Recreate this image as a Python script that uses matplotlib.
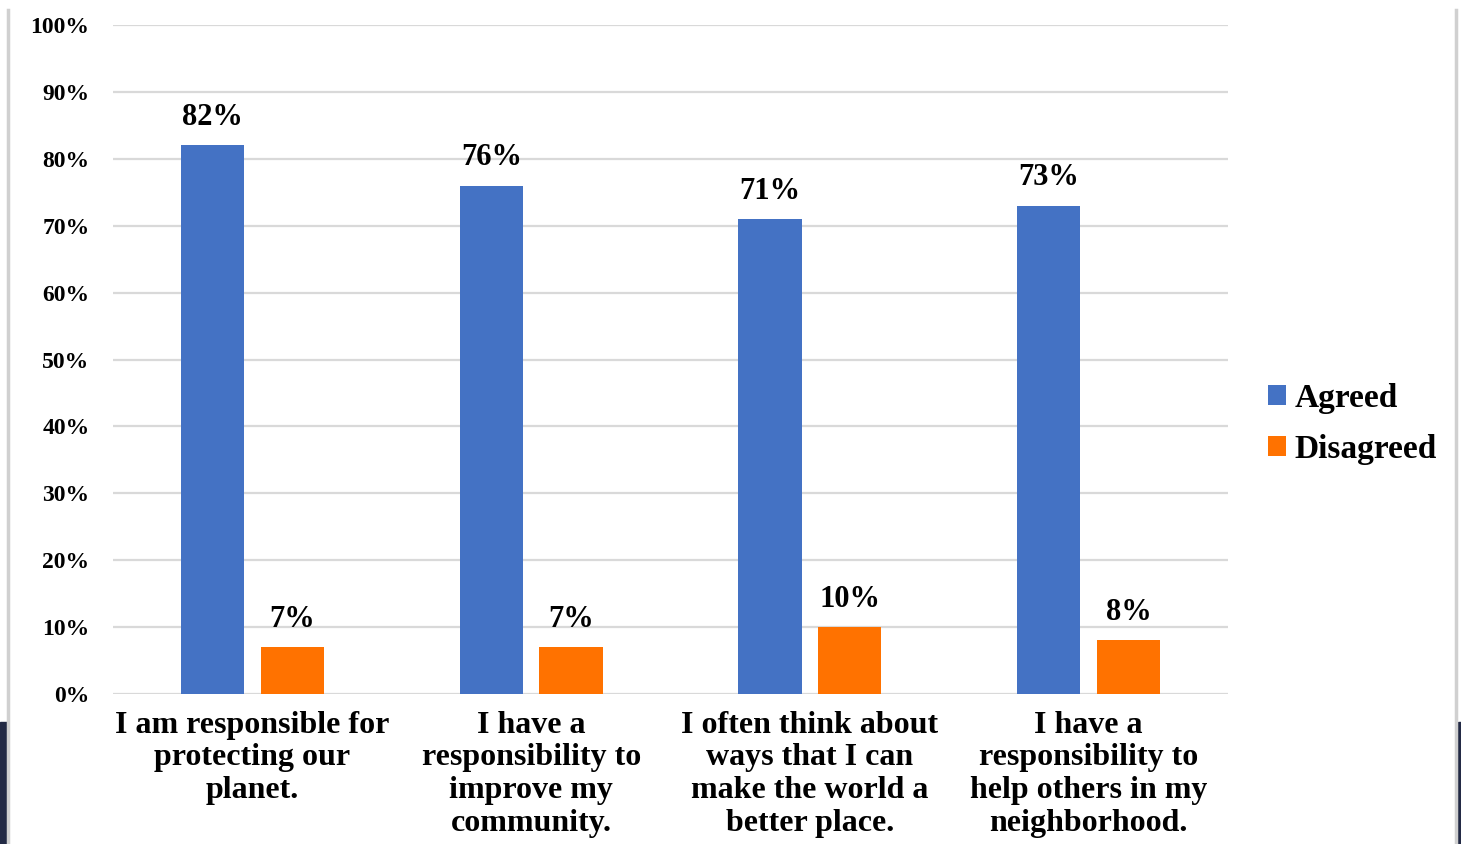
import numpy as np
import matplotlib
matplotlib.use("Agg")
import matplotlib.pyplot as plt
from matplotlib.patches import Rectangle
from matplotlib.lines import Line2D

# survey statements and shares (percent)
categories = ["I am responsible for\nprotecting our\nplanet.",
              "I have a\nresponsibility to\nimprove my\ncommunity.",
              "I often think about\nways that I can\nmake the world a\nbetter place.",
              "I have a\nresponsibility to\nhelp others in my\nneighborhood."]
agreed = [82, 76, 71, 73]
disagreed = [7, 7, 10, 8]
yticks = [0, 10, 20, 30, 40, 50, 60, 70, 80, 90, 100]

blue = "#4472C4"
orange = "#FF7200"

plt.rcParams.update({
    "font.family": "serif",
    "font.serif": ["Liberation Serif", "DejaVu Serif"],
    "font.weight": "bold"})

fig = plt.figure(figsize=(14.61, 8.44), dpi=100)
ax = fig.add_axes([113/1461, 1-694/844, (1228-113)/1461, (694-25)/844])

x = np.arange(len(categories))
w = 0.227
b1 = ax.bar(x - 0.143, agreed, w, color=blue, label="Agreed", zorder=3)
b2 = ax.bar(x + 0.143, disagreed, w, color=orange, label="Disagreed", zorder=3)

for bars, vals in [(b1, agreed), (b2, disagreed)]:
    for r, v in zip(bars, vals):
        ax.text(r.get_x() + r.get_width()/2, v + 2.0, f"{v}%", ha="center", va="bottom",
                fontsize=22, fontweight="bold")

ax.set_xlim(-0.5, 3.5)
ax.set_ylim(0, 100)
ax.set_yticks(yticks)
ax.set_yticklabels([f"{t}%" for t in yticks], fontsize=17, fontweight="bold")
ax.set_xticks(x)
ax.set_xticklabels(categories, fontsize=23, fontweight="bold", linespacing=1.17)
ax.tick_params(axis="both", length=0)
ax.tick_params(axis="y", pad=17)
ax.tick_params(axis="x", pad=12)
ax.grid(axis="y", color="#d9d9d9", linewidth=1.6, zorder=0)
for s in ax.spines.values():
    s.set_visible(False)

fig.legend(handles=[b1, b2], loc="center left", bbox_to_anchor=(1238/1461, 1-424/844),
           frameon=False, handlelength=0.55, handleheight=0.55,
           handletextpad=0.25, labelspacing=0.6, prop={"weight": "bold", "size": 24})

# screenshot frame: thin gray edges and dark corners at the bottom
fig.add_artist(Line2D([8/1461, 8/1461], [0, 1-10/844], color="#d0d0d0", linewidth=2.5))
fig.add_artist(Line2D([1456/1461, 1456/1461], [0, 1-10/844], color="#d0d0d0", linewidth=2.5))
fig.add_artist(Rectangle((0, 0), 7/1461, 122/844, color="#232a45", transform=fig.transFigure))
fig.add_artist(Rectangle((1458/1461, 0), 3/1461, 122/844, color="#232a45", transform=fig.transFigure))

fig.savefig("out.png", dpi=100)
